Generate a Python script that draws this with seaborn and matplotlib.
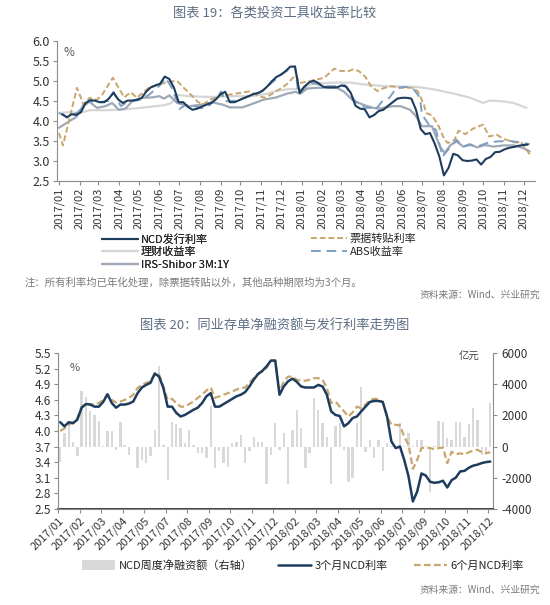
import numpy as np
import pandas as pd
import matplotlib
matplotlib.use("Agg")
import matplotlib.pyplot as plt
import seaborn as sns
from matplotlib.lines import Line2D
from matplotlib.patches import Patch

# ---------------- data: chart 19 ----------------
# weekly 3M NCD issuing rate (also used in chart 20)
ncd_3m = [4.17, 4.09, 4.17, 4.15, 4.22, 4.45, 4.52, 4.51, 4.47, 4.47,
          4.56, 4.71, 4.54, 4.45, 4.51, 4.51, 4.53, 4.57, 4.73, 4.84,
          4.89, 4.93, 5.11, 5.05, 4.83, 4.47, 4.47, 4.35, 4.28, 4.31,
          4.36, 4.41, 4.45, 4.54, 4.67, 4.73, 4.47, 4.47, 4.52, 4.57,
          4.62, 4.67, 4.70, 4.75, 4.86, 4.99, 5.10, 5.16, 5.25, 5.36,
          5.36, 4.70, 4.86, 4.96, 5.01, 4.95, 4.86, 4.84, 4.84, 4.84,
          4.89, 4.86, 4.70, 4.38, 4.31, 4.29, 4.09, 4.15, 4.25, 4.28,
          4.38, 4.47, 4.56, 4.58, 4.58, 4.56, 4.28, 3.80, 3.67, 3.70,
          3.44, 3.12, 2.64, 2.83, 3.18, 3.14, 3.02, 3.00, 3.01, 3.04,
          2.91, 3.05, 3.10, 3.22, 3.23, 3.29, 3.33, 3.35, 3.38, 3.40,
          3.41]
ncd_6m = [4.00, 4.05, 4.12, 4.17, 4.25, 4.47, 4.52, 4.52, 4.51, 4.54,
          4.60, 4.70, 4.60, 4.55, 4.57, 4.60, 4.64, 4.70, 4.83, 4.89,
          4.93, 4.96, 5.10, 5.09, 4.86, 4.60, 4.62, 4.54, 4.47, 4.47,
          4.52, 4.57, 4.64, 4.70, 4.78, 4.84, 4.64, 4.67, 4.70, 4.73,
          4.76, 4.80, 4.83, 4.84, 4.93, 5.02, 5.10, 5.15, 5.22, 5.35,
          5.36, 4.76, 4.96, 5.05, 5.05, 4.99, 4.97, 4.97, 4.99, 5.02,
          5.02, 4.99, 4.83, 4.54, 4.57, 4.47, 4.38, 4.28, 4.36, 4.47,
          4.44, 4.51, 4.60, 4.62, 4.62, 4.56, 4.28, 4.12, 4.12, 4.11,
          3.89, 3.73, 3.27, 3.44, 3.67, 3.68, 3.67, 3.65, 3.67, 3.68,
          3.38, 3.60, 3.55, 3.57, 3.55, 3.59, 3.62, 3.64, 3.59, 3.57,
          3.59]
ncd_net = [-1000, 900, 1400, 300, -640, 3580, 3220, 2300, 2000, 1650,
           50, 1000, 1000, -240, 1570, 100, -540, -50, -1350, -860,
           -1070, -640, 1070, 5200, 100, -2150, 1570, 1440, 1180, 210,
           1070, 100, -430, -430, -750, 2580, -1400, -300, -1070, -1300,
           200, 300, 750, -1070, -300, 600, 300, 300, -2400, -540,
           1500, -250, 850, -2400, 1070, 2360, 1180, -1400, -400, 3100,
           2360, 1500, 600, -2400, 1300, 1500, -200, -2300, -2000, 1500,
           3800, -360, 430, -750, 430, -1600, 210, 50, 50, 1500,
           50, 850, 50, 430, 430, 50, -2900, 50, 1650, 1570,
           540, 430, 1610, 1570, 640, 1440, 2470, 1720, -540, -430,
           2790]
ncd_start = "2017-01-06"

bill_dates = ["2017-01-01", "2017-01-07", "2017-01-28", "2017-02-07", "2017-02-16",
              "2017-02-27", "2017-03-07", "2017-03-23", "2017-04-09", "2017-04-19",
              "2017-04-28", "2017-05-16", "2017-06-01", "2017-06-13", "2017-06-28",
              "2017-07-05", "2017-07-16", "2017-07-28", "2017-08-05", "2017-08-16",
              "2017-09-01", "2017-09-15", "2017-09-30", "2017-10-14", "2017-10-29",
              "2017-11-07", "2017-11-24", "2017-12-09", "2017-12-23", "2017-12-29",
              "2018-01-14", "2018-02-04", "2018-02-19", "2018-03-01", "2018-03-13",
              "2018-03-19", "2018-03-28", "2018-04-07", "2018-04-16", "2018-04-25",
              "2018-05-04", "2018-05-16", "2018-06-01", "2018-06-16", "2018-06-25",
              "2018-07-04", "2018-07-07", "2018-07-16", "2018-07-25", "2018-08-04",
              "2018-08-09", "2018-08-19", "2018-08-25", "2018-09-04", "2018-09-16",
              "2018-10-01", "2018-10-10", "2018-10-21", "2018-11-01", "2018-11-16",
              "2018-11-28", "2018-12-10"]
bill_rate = [3.70, 3.39, 4.83, 4.41, 4.58, 4.53, 4.66, 5.08, 4.59, 4.72,
             4.58, 4.83, 4.91, 4.98, 5.00, 4.87, 4.70, 4.49, 4.41, 4.53,
             4.64, 4.66, 4.70, 4.74, 4.62, 4.58, 4.74, 4.91, 5.15, 4.95,
             5.00, 5.08, 5.31, 5.25, 5.25, 5.29, 5.25, 5.10, 4.85, 4.75,
             4.82, 4.87, 4.83, 4.83, 4.74, 4.41, 4.20, 4.14, 3.91, 3.53,
             3.45, 3.53, 3.76, 3.67, 3.81, 3.91, 3.61, 3.66, 3.55, 3.47,
             3.45, 3.17]

wm_dates = ["2017-01-01", "2017-01-16", "2017-02-01", "2017-02-16", "2017-03-16",
            "2017-04-16", "2017-05-16", "2017-06-10", "2017-06-19", "2017-06-28",
            "2017-07-16", "2017-08-16", "2017-09-16", "2017-10-16", "2017-11-10",
            "2017-11-25", "2017-12-16", "2018-01-01", "2018-01-16", "2018-02-16",
            "2018-03-16", "2018-04-01", "2018-04-16", "2018-05-07", "2018-06-01",
            "2018-06-25", "2018-07-19", "2018-08-19", "2018-09-10", "2018-10-01",
            "2018-10-10", "2018-11-01", "2018-11-16", "2018-12-05"]
wm_rate = [4.20, 4.22, 4.20, 4.27, 4.27, 4.30, 4.35, 4.40, 4.45, 4.65,
           4.62, 4.60, 4.62, 4.62, 4.68, 4.76, 4.80, 4.80, 4.92, 4.96,
           4.96, 4.92, 4.90, 4.87, 4.86, 4.85, 4.79, 4.68, 4.59, 4.45,
           4.51, 4.49, 4.45, 4.33]

abs_dates = ["2017-01-01", "2017-01-13", "2017-01-28", "2017-02-16", "2017-03-01",
             "2017-03-16", "2017-03-24", "2017-04-04", "2017-04-16", "2017-05-01",
             "2017-05-16", "2017-06-01", "2017-06-10", "2017-06-19", "2017-06-28",
             "2017-07-01", "2017-07-10", "2017-07-22", "2017-08-04", "2017-08-16",
             "2017-08-28", "2017-09-02", "2017-09-07", "2017-09-25", "2017-10-14",
             "2017-10-29", "2017-11-14", "2017-12-01", "2017-12-13", "2017-12-22",
             "2017-12-27", "2018-01-07", "2018-01-19", "2018-02-04", "2018-02-28",
             "2018-03-07", "2018-03-16", "2018-03-22", "2018-04-07", "2018-04-16",
             "2018-04-22", "2018-05-02", "2018-05-13", "2018-05-22", "2018-06-02",
             "2018-06-16", "2018-06-28", "2018-07-01", "2018-07-13", "2018-07-22",
             "2018-08-01", "2018-08-13", "2018-08-22", "2018-09-01", "2018-09-11",
             "2018-09-22", "2018-10-07", "2018-10-22", "2018-11-10", "2018-11-25",
             "2018-12-10"]
abs_rate = [4.20, 4.10, 4.20, 4.50, 4.47, 4.50, 4.72, 4.37, 4.50, 4.52,
            4.65, 4.88, 5.08, 4.85, 4.48, 4.30, 4.40, 4.38, 4.32, 4.40,
            4.62, 4.74, 4.49, 4.51, 4.62, 4.70, 4.91, 5.16, 5.29, 5.37,
            4.68, 4.87, 4.95, 4.87, 4.87, 4.90, 4.66, 4.49, 4.33, 4.33,
            4.28, 4.49, 4.58, 4.79, 4.85, 4.85, 4.58, 4.16, 3.87, 3.78,
            3.11, 3.36, 3.53, 3.36, 3.40, 3.36, 3.45, 3.49, 3.50, 3.47,
            3.42]

irs_dates = ["2017-01-01", "2017-01-17", "2017-01-27", "2017-02-07", "2017-02-16",
             "2017-02-27", "2017-03-12", "2017-03-22", "2017-04-01", "2017-04-11",
             "2017-04-21", "2017-05-06", "2017-05-21", "2017-06-01", "2017-06-08",
             "2017-06-16", "2017-06-28", "2017-07-16", "2017-08-05", "2017-08-19",
             "2017-09-04", "2017-09-15", "2017-10-04", "2017-10-19", "2017-11-04",
             "2017-11-24", "2017-12-09", "2017-12-23", "2017-12-30", "2018-01-09",
             "2018-01-24", "2018-02-23", "2018-03-06", "2018-03-18", "2018-04-03",
             "2018-04-18", "2018-04-28", "2018-05-18", "2018-05-30", "2018-06-13",
             "2018-06-22", "2018-07-01", "2018-07-16", "2018-07-28", "2018-08-04",
             "2018-08-13", "2018-08-22", "2018-09-01", "2018-09-11", "2018-09-22",
             "2018-10-04", "2018-10-16", "2018-11-01", "2018-11-16", "2018-12-01",
             "2018-12-10"]
irs_rate = [3.83, 4.00, 4.10, 4.41, 4.48, 4.33, 4.37, 4.45, 4.28, 4.31,
            4.49, 4.58, 4.59, 4.62, 4.56, 4.64, 4.45, 4.37, 4.41, 4.47,
            4.41, 4.34, 4.34, 4.43, 4.53, 4.59, 4.68, 4.73, 4.68, 4.81,
            4.83, 4.83, 4.73, 4.53, 4.41, 4.33, 4.31, 4.37, 4.37, 4.28,
            4.12, 3.87, 3.87, 3.36, 3.20, 3.40, 3.49, 3.36, 3.42, 3.34,
            3.40, 3.36, 3.39, 3.39, 3.32, 3.24]

top_labels = ["2017/01", "2017/02", "2017/03", "2017/04", "2017/05", "2017/06",
              "2017/07", "2017/08", "2017/09", "2017/10", "2017/11", "2017/12",
              "2018/01", "2018/02", "2018/03", "2018/04", "2018/05", "2018/06",
              "2018/07", "2018/08", "2018/09", "2018/10", "2018/11", "2018/12"]
bottom_labels = ["2017/01", "2017/02", "2017/03", "2017/04", "2017/05", "2017/07",
                 "2017/08", "2017/09", "2017/10", "2017/11", "2017/12", "2018/02",
                 "2018/03", "2018/04", "2018/05", "2018/06", "2018/07", "2018/09",
                 "2018/10", "2018/11", "2018/12"]

# ---------------- style ----------------
sns.set_theme(style="ticks")
plt.rcParams['font.family'] = ['Noto Sans CJK SC', 'DejaVu Sans']

navy = "#1d3c5e"
tan = "#c8a66e"
light = "#d6d6d6"
steel = "#7f9ec0"
irs_c = "#9ea9b5"
bar_c = "#d9d9d9"
axis_c = "#8c8c8c"
title_c = "#5d6d82"
text_c = "#333333"
note_c = "#7a7a7a"

fig = plt.figure(figsize=(5.5, 6.05), dpi=100)

# ---------------- chart 19 ----------------
fig.text(0.5, 1 - 13 / 605, "图表 19：各类投资工具收益率比较", ha="center", va="center",
         fontsize=9.5, color=title_c)

ax1 = fig.add_axes([57 / 550, 1 - 181 / 605, 478 / 550, 140 / 605])
ncd_week = pd.date_range(ncd_start, periods=len(ncd_3m), freq="7D")

sns.lineplot(x=pd.to_datetime(wm_dates), y=wm_rate, ax=ax1, color=light, lw=1.6)
sns.lineplot(x=pd.to_datetime(irs_dates), y=irs_rate, ax=ax1, color=irs_c, lw=1.6)
sns.lineplot(x=pd.to_datetime(bill_dates), y=bill_rate, ax=ax1, color=tan, lw=1.4,
             linestyle=(0, (3, 1.5)))
sns.lineplot(x=pd.to_datetime(abs_dates), y=abs_rate, ax=ax1, color=steel, lw=1.4,
             linestyle=(0, (5, 3)))
sns.lineplot(x=ncd_week, y=ncd_3m, ax=ax1, color=navy, lw=1.5)

ax1.set_xlim(pd.Timestamp("2016-12-29"), pd.Timestamp("2018-12-18"))
ax1.set_ylim(2.5, 6.0)
ax1.set_xticks(pd.date_range("2017-01-01", periods=len(top_labels), freq="MS"))
ax1.set_xticklabels(top_labels, rotation=90, fontsize=8, color=text_c)
yt = np.arange(2.5, 6.01, 0.5)
ax1.set_yticks(yt)
ax1.set_yticklabels([f"{v:.1f}" for v in yt], fontsize=9, color=text_c)
ax1.set_xlabel("")
ax1.set_ylabel("")
for s in ["top", "right"]:
    ax1.spines[s].set_visible(False)
for s in ["left", "bottom"]:
    ax1.spines[s].set_color(axis_c)
    ax1.spines[s].set_linewidth(0.8)
ax1.tick_params(direction="out", length=3, width=0.8, color=axis_c, pad=2)
ax1.text(0.014, 0.92, "%", transform=ax1.transAxes, fontsize=8.5, color="#555555",
         ha="left", va="center")

h_ncd = Line2D([], [], color=navy, lw=1.5)
h_bill = Line2D([], [], color=tan, lw=1.4, linestyle=(0, (3, 1.5)))
h_wm = Line2D([], [], color=light, lw=1.6)
h_abs = Line2D([], [], color=steel, lw=1.4, linestyle=(0, (5, 3)))
h_irs = Line2D([], [], color=irs_c, lw=1.6)
leg_kw = dict(loc="upper left", frameon=False, borderpad=0, borderaxespad=0,
              handlelength=3.2, handletextpad=0.3, labelspacing=0.22, fontsize=8)
leg_a = fig.legend([h_ncd, h_wm, h_irs], ["NCD发行利率", "理财收益率", "IRS-Shibor 3M:1Y"],
                   bbox_to_anchor=(102 / 550, 1 - 234 / 605), **leg_kw)
fig.legend([h_bill, h_abs], ["票据转贴利率", "ABS收益率"],
           bbox_to_anchor=(311 / 550, 1 - 234 / 605), **leg_kw)
fig.add_artist(leg_a)

fig.text(25 / 550, 1 - 282 / 605, "注：所有利率均已年化处理，除票据转贴以外，其他品种期限均为3个月。",
         ha="left", va="center", fontsize=7.5, color=note_c)
fig.text(540 / 550, 1 - 295 / 605, "资料来源：Wind、兴业研究", ha="right", va="center",
         fontsize=7, color=note_c)

# ---------------- chart 20 ----------------
fig.text(0.5, 1 - 326 / 605, "图表 20：同业存单净融资额与发行利率走势图", ha="center",
         va="center", fontsize=9.5, color=title_c)

ax2 = fig.add_axes([58 / 550, 1 - 508.7 / 605, 435.3 / 550, 155.4 / 605])
ax2r = ax2.twinx()
pos = np.arange(len(ncd_net)) + 0.5

sns.barplot(x=pos, y=ncd_net, ax=ax2r, native_scale=True, color=bar_c, saturation=1,
            width=0.55, errorbar=None, linewidth=0)
sns.lineplot(x=pos, y=ncd_6m, ax=ax2, color=tan, lw=1.6, linestyle=(0, (3, 1.5)))
sns.lineplot(x=pos, y=ncd_3m, ax=ax2, color=navy, lw=1.8)

ax2.set_zorder(ax2r.get_zorder() + 1)
ax2.patch.set_visible(False)

ax2.set_xlim(0, len(ncd_net) + 0.2)
ax2.set_ylim(2.5, 5.5)
ax2r.set_ylim(-4000, 6000)
ax2.set_xticks(np.arange(0, 5 * len(bottom_labels), 5))
ax2.set_xticklabels(bottom_labels, rotation=45, ha="right", rotation_mode="anchor",
                    fontsize=8, color=text_c)
yl = np.round(np.arange(2.5, 5.51, 0.3), 1)
ax2.set_yticks(yl)
ax2.set_yticklabels([f"{v:.1f}" for v in yl], fontsize=8.5, color=text_c)
yr = np.arange(-4000, 6001, 2000)
ax2r.set_yticks(yr)
ax2r.set_yticklabels([str(v) if v >= 0 else "-" + str(-v) for v in yr], fontsize=8.5,
                     color=text_c)
for a in (ax2, ax2r):
    a.set_xlabel("")
    a.set_ylabel("")
    a.spines["top"].set_visible(False)
ax2.spines["right"].set_visible(False)
ax2r.spines["left"].set_visible(False)
for a, s in ((ax2, "left"), (ax2, "bottom"), (ax2r, "right")):
    a.spines[s].set_color(axis_c)
    a.spines[s].set_linewidth(0.8)
ax2.tick_params(direction="out", length=3, width=0.8, color=axis_c, pad=2)
ax2r.tick_params(direction="out", length=3, width=0.8, color=axis_c, pad=3)
ax2.text(0.026, 0.905, "%", transform=ax2.transAxes, fontsize=8, color="#555555",
         ha="left", va="center")
ax2.text(0.945, 0.975, "亿元", transform=ax2.transAxes, fontsize=7.5, color="#444444",
         ha="center", va="center")

h_bar = Patch(facecolor=bar_c, edgecolor="none")
h_3m = Line2D([], [], color=navy, lw=1.8)
h_6m = Line2D([], [], color=tan, lw=1.6, linestyle=(0, (3, 1.5)))
fig.legend([h_bar, h_3m, h_6m], ["NCD周度净融资额（右轴）", "3个月NCD利率", "6个月NCD利率"],
           loc="upper left", bbox_to_anchor=(82 / 550, 1 - 560 / 605), ncol=3,
           frameon=False, borderpad=0, borderaxespad=0, handlelength=3.0,
           handleheight=0.9, handletextpad=0.3, columnspacing=2.3, fontsize=8)
fig.text(540 / 550, 1 - 590 / 605, "资料来源：Wind、兴业研究", ha="right", va="center",
         fontsize=7, color=note_c)

fig.savefig("out.png", dpi=100)
